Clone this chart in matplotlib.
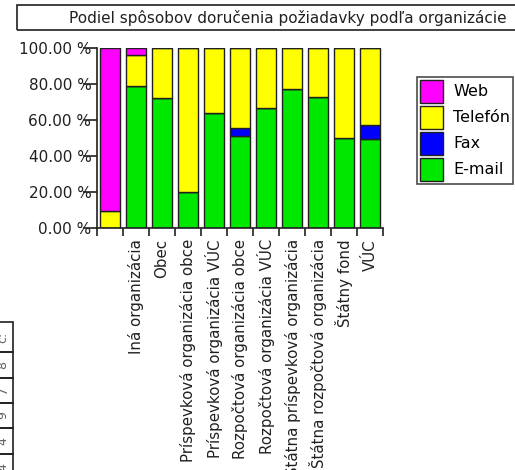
import numpy as np
import matplotlib
matplotlib.use("Agg")
import matplotlib.pyplot as plt
from matplotlib.patches import Rectangle, Patch

# Podiel spôsobov doručenia (%), bottom -> top: E-mail, Fax, Telefón, Web
kategorie = ["", "Iná organizácia", "Obec", "Príspevková organizácia obce",
             "Príspevková organizácia VÚC", "Rozpočtová organizácia obce",
             "Rozpočtová organizácia VÚC", "Štátna príspevková organizácia",
             "Štátna rozpočtová organizácia", "Štátny fond", "VÚC"]
email = [0.0, 79.1, 72.0, 20.0, 64.1, 51.3, 66.9, 77.2, 73.0, 50.0, 49.6]
fax = [0.0, 0.0, 0.0, 0.0, 0.0, 4.1, 0.0, 0.0, 0.0, 0.0, 7.4]
telefon = [9.5, 17.2, 28.0, 80.0, 35.9, 44.6, 33.1, 22.8, 27.0, 50.0, 43.0]
web = [90.5, 3.7, 0.0, 0.0, 0.0, 0.0, 0.0, 0.0, 0.0, 0.0, 0.0]

serie = ["E-mail", "Fax", "Telefón", "Web"]
farby = {"Web": "#ff00ff", "Telefón": "#ffff00", "Fax": "#0000ff", "E-mail": "#00e800"}
hodnoty = {"E-mail": email, "Fax": fax, "Telefón": telefon, "Web": web}

W, H = 515, 470
fig = plt.figure(figsize=(W / 100, H / 100), dpi=100)
ax = fig.add_axes([97 / W, 1 - 228 / H, 286 / W, 180 / H])

x = np.arange(len(kategorie))
spodok = np.zeros(len(kategorie))
for s in serie:
    v = np.array(hodnoty[s])
    ax.bar(x, v, bottom=spodok, width=0.79, color=farby[s],
           edgecolor="#202020", linewidth=1.0)
    spodok += v

ax.set_xlim(-0.5, len(kategorie) - 0.5)
ax.set_ylim(0, 100)
ax.spines["top"].set_visible(False)
ax.spines["right"].set_visible(False)
for sp in ("left", "bottom"):
    ax.spines[sp].set_linewidth(1.2)
    ax.spines[sp].set_color("#202020")

ax.set_yticks(np.arange(0, 101, 20))
ax.set_yticklabels([f"{v:.2f} %" for v in np.arange(0, 101, 20)])
ax.tick_params(axis="y", length=10, width=1.2, pad=-6, labelsize=11,
               colors="#202020")

ax.set_xticks(x[1:])
ax.set_xticklabels(kategorie[1:], rotation=90, va="top", ha="center")
ax.set_xticks(np.arange(-0.5, len(kategorie)), minor=True)
ax.tick_params(axis="x", which="major", length=0, pad=8, labelsize=10.8,
               labelcolor="#202020")
ax.tick_params(axis="x", which="minor", length=6, width=1.2, color="#202020")

# title box
fig.patches.append(Rectangle((17 / W, 1 - 30 / H), 510 / W, 25 / H,
                             transform=fig.transFigure, fill=False,
                             edgecolor="#202020", linewidth=1.2))
fig.text(288 / W, 1 - 17.5 / H, "Podiel spôsobov doručenia požiadavky podľa organizácie",
         ha="center", va="center", fontsize=11, color="#202020")

# legend (right side runs past the picture edge)
handles = [Patch(facecolor=farby[s], edgecolor="#202020", label=s)
           for s in ["Web", "Telefón", "Fax", "E-mail"]]
leg = fig.legend(handles=handles, loc="upper left",
                 bbox_to_anchor=(417 / W, 1 - 77 / H), frameon=True,
                 fontsize=11.5, handlelength=1.44, handleheight=1.79,
                 labelspacing=0.22, handletextpad=0.63, borderpad=0.19,
                 borderaxespad=0, fancybox=False)
leg.get_frame().set_edgecolor("#202020")
leg.get_frame().set_linewidth(1.2)

# cut-off table on the left edge
riadky = [322, 352, 378, 403, 428, 454, 480]
texty = ["č:", "8", "7", "9", "4", "4"]
for i in range(len(riadky) - 1):
    y0, y1 = riadky[i], riadky[i + 1]
    fig.patches.append(Rectangle((-40 / W, 1 - y1 / H), 53 / W, (y1 - y0) / H,
                                 transform=fig.transFigure, fill=False,
                                 edgecolor="#202020", linewidth=1.2))
    fig.text(3 / W, 1 - (y0 + y1) / 2 / H, texty[i], rotation=90,
             ha="center", va="center", fontsize=9, color="#606060")

fig.savefig("out.png", dpi=100)
